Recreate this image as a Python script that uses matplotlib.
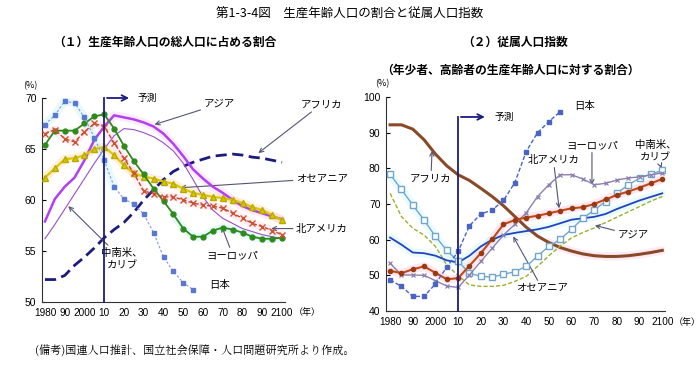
import matplotlib
matplotlib.use("Agg")
import matplotlib.pyplot as plt
import numpy as np

plt.rcParams['font.family'] = ['Noto Sans CJK JP', 'DejaVu Sans']
NUM = ['Liberation Sans Narrow', 'Liberation Sans', 'DejaVu Sans']

years = list(range(1980, 2101, 5))
years_jp = list(range(1980, 2056, 5))
xticks = list(range(1980, 2101, 10))
xticklabels = ['1980', '90', '2000', '10', '20', '30', '40', '50', '60', '70', '80', '90', '2100']

# (1) share of working-age population (%)
l_japan = [67.4, 68.3, 69.7, 69.5, 68.1, 66.1, 63.9, 61.3, 60.1, 59.6, 58.6, 56.8, 54.4, 53.0, 51.9, 51.2]
l_africa = [52.2, 52.2, 52.6, 53.6, 54.4, 55.3, 56.3, 57.1, 57.8, 58.8, 60.0, 61.0, 62.0, 62.8, 63.3, 63.7,
            64.0, 64.3, 64.4, 64.5, 64.4, 64.2, 64.1, 63.9, 63.7]
l_asia = [57.9, 60.1, 61.3, 62.2, 63.9, 65.9, 67.2, 68.3, 68.1, 67.9, 67.6, 67.2, 66.5, 65.5, 64.3, 63.0,
          62.1, 61.3, 60.7, 60.0, 59.4, 59.0, 58.7, 58.4, 58.1]
l_latam = [56.2, 57.6, 59.1, 60.6, 62.1, 63.6, 65.0, 66.3, 67.0, 66.9, 66.6, 66.2, 65.6, 64.8, 63.6, 62.0,
           60.3, 59.0, 58.2, 57.7, 57.2, 56.9, 56.6, 56.4, 56.2]
l_oceania = [62.2, 63.1, 64.0, 64.1, 64.4, 65.0, 65.2, 64.4, 63.4, 62.6, 62.3, 62.1, 61.8, 61.6, 61.1, 60.7,
             60.5, 60.3, 60.2, 60.0, 59.7, 59.3, 59.0, 58.5, 58.0]
l_europe = [65.4, 66.8, 66.8, 66.8, 67.5, 68.2, 68.4, 67.0, 65.3, 63.8, 62.5, 61.1, 59.9, 58.6, 57.2, 56.4,
            56.4, 57.0, 57.3, 57.1, 56.8, 56.4, 56.2, 56.2, 56.3]
l_namerica = [66.5, 66.9, 66.0, 65.7, 66.7, 67.5, 67.2, 65.6, 64.1, 62.6, 60.9, 60.6, 60.3, 60.3, 60.0, 59.7,
              59.5, 59.4, 59.2, 58.7, 58.2, 57.7, 57.4, 57.0, 56.6]

# (2) dependency ratio (%)
r_japan = [48.7, 46.9, 44.1, 44.1, 47.6, 52.3, 56.7, 63.9, 67.2, 68.3, 71.0, 76.0, 84.7, 90.0, 93.1, 95.9]
r_africa = [92.2, 92.2, 91.0, 88.0, 84.0, 80.7, 78.2, 76.6, 74.4, 72.1, 69.5, 66.5, 63.5, 61.0, 59.2, 57.8,
            56.8, 56.0, 55.5, 55.3, 55.3, 55.5, 55.9, 56.4, 57.0]
r_europe = [53.4, 50.1, 50.1, 50.0, 48.5, 47.0, 46.6, 50.1, 53.9, 57.6, 61.3, 64.3, 67.5, 72.1, 75.4, 78.2,
            78.2, 77.0, 75.4, 75.8, 76.7, 77.3, 77.6, 78.2, 78.7]
r_namerica = [51.3, 50.6, 51.7, 52.5, 50.7, 48.9, 49.2, 52.7, 56.2, 60.1, 64.3, 65.5, 66.2, 66.7, 67.4, 68.1,
              68.8, 69.1, 70.0, 71.3, 72.5, 73.5, 74.6, 75.8, 77.0]
r_oceania = [60.6, 58.6, 56.4, 56.2, 55.5, 54.2, 53.6, 55.5, 58.1, 60.0, 61.3, 61.9, 62.4, 62.9, 63.6, 64.6,
             65.6, 66.0, 66.4, 67.2, 68.6, 69.8, 71.0, 72.0, 73.0]
r_asia = [73.0, 66.5, 63.2, 61.3, 58.1, 52.9, 49.9, 47.3, 46.9, 46.9, 47.2, 48.3, 49.7, 52.5, 55.5, 58.2,
          60.5, 62.0, 63.3, 64.8, 66.3, 67.8, 69.3, 70.8, 72.1]
r_latam = [78.3, 74.1, 69.7, 65.5, 60.9, 57.0, 53.9, 50.6, 49.7, 49.5, 50.3, 51.0, 52.5, 55.4, 58.1, 60.1,
           62.9, 66.0, 68.3, 70.7, 73.0, 75.4, 77.2, 78.4, 79.4]

W, H = 700, 366
fig = plt.figure(figsize=(7.0, 3.66), dpi=100)


def pax(x0, y0, x1, y1):
    return fig.add_axes([x0 / W, 1 - y1 / H, (x1 - x0) / W, (y1 - y0) / H])


def ftxt(x, y, s, **kw):
    fig.text(x / W, 1 - y / H, s, **kw)


ftxt(350, 14, '第1-3-4図　生産年齢人口の割合と従属人口指数', ha='center', va='center', fontsize=9)
ftxt(165, 42, '（１）生産年齢人口の総人口に占める割合', ha='center', va='center', fontsize=8.5, fontweight='bold')
ftxt(515, 42, '（２）従属人口指数', ha='center', va='center', fontsize=8.5, fontweight='bold')
ftxt(510, 70, '（年少者、高齢者の生産年齢人口に対する割合）', ha='center', va='center', fontsize=8.5, fontweight='bold')
ftxt(30, 86, '(%)', ha='center', va='center', fontsize=6.5)
ftxt(382, 84, '(%)', ha='center', va='center', fontsize=6.5)
ftxt(35, 351, '(備考)国連人口推計、国立社会保障・人口問題研究所より作成。', ha='left', va='center', fontsize=8,
     family=['Noto Serif CJK JP', 'Noto Sans CJK JP', 'DejaVu Sans'])


def style_axes(ax, ylim, yticks, xlim):
    ax.set_xlim(*xlim)
    ax.set_ylim(*ylim)
    ax.set_yticks(yticks)
    ax.set_xticks(xticks)
    ax.set_xticklabels(xticklabels)
    for s in ['top', 'right']:
        ax.spines[s].set_visible(False)
    for s in ['left', 'bottom']:
        ax.spines[s].set_color('#333333')
        ax.spines[s].set_linewidth(0.8)
    ax.tick_params(axis='x', length=0, pad=4, labelsize=7.2)
    ax.tick_params(axis='y', direction='in', length=3, pad=4, labelsize=7.5)
    for lab in ax.get_xticklabels() + ax.get_yticklabels():
        lab.set_family(NUM)
    ax.patch.set_alpha(0)


def glow(ax, x, y, color, lw=6, alpha=0.2):
    ax.plot(x, y, color=color, lw=lw, alpha=alpha, solid_capstyle='round', zorder=1)


# ---------------- left chart ----------------
axL = pax(42, 98, 285, 302)
style_axes(axL, (50, 70), [50, 55, 60, 65, 70], (1978.5, 2101.5))

glow(axL, years[6:], l_asia[6:], '#ff9be8')
glow(axL, years, l_namerica, '#ffaacc')
glow(axL, years, l_oceania, '#ffc070', alpha=0.25)
glow(axL, years[13:], l_europe[13:], '#a0f0f0', alpha=0.25)
glow(axL, years_jp[:8], l_japan[:8], '#a0e8f0', alpha=0.25)

axL.plot(years, l_africa, color='#1c1c80', lw=2.0, ls=(0, (4, 2)), zorder=3)
axL.plot(years, l_latam, color='#9a50c8', lw=0.8, zorder=3)
axL.plot(years, l_asia, color='#b040f0', lw=1.8, zorder=4)
axL.plot(years, l_oceania, color='#d8c800', lw=1.6, marker='^', ms=4, mfc='#d8c800', mec='#b8a800', zorder=4)
axL.plot(years, l_europe, color='#2f8a1e', lw=1.3, marker='o', ms=3.5, zorder=5)
axL.plot(years, l_namerica, color='#b84a28', lw=1.0, ls=(0, (3, 1.5)), marker='x', ms=4.5, mew=1.0,
         mec='#d05030', zorder=5)
axL.plot(years_jp, l_japan, color='#8ea4e0', lw=0.9, ls=(0, (2, 1.5)), marker='s', ms=3.2,
         mfc='#5a78d0', mec='#5a78d0', zorder=5)

nav = '#1c1c80'
axL.plot([2010, 2010], [50, 70], color=nav, lw=1.3, clip_on=False, zorder=6)
axL.annotate('', xy=(2024, 70), xytext=(2010, 70), xycoords='data',
             arrowprops=dict(arrowstyle='->', color=nav, lw=1.3), annotation_clip=False)
axL.text(2027, 70, '予測', fontsize=7, va='center', ha='left')

arrow = dict(arrowstyle='->', color='#555577', lw=0.8, shrinkA=0, shrinkB=0)
fsl = 7.5
axL.annotate('アジア', xy=(2035.5, 67.4), xytext=(2068, 69.4), fontsize=fsl, ha='center', va='center',
             arrowprops=arrow, annotation_clip=False)
axL.annotate('アフリカ', xy=(2088, 64.6), xytext=(2120, 69.4), fontsize=fsl, ha='center', va='center',
             arrowprops=arrow, annotation_clip=False)
axL.annotate('オセアニア', xy=(2048.5, 61.2), xytext=(2120, 62.1), fontsize=fsl, ha='center', va='center',
             arrowprops=arrow, annotation_clip=False)
axL.annotate('北アメリカ', xy=(2094.5, 57.2), xytext=(2120, 57.2), fontsize=fsl, ha='center', va='center',
             arrowprops=arrow, annotation_clip=False)
axL.annotate('ヨーロッパ', xy=(2069.5, 57.4), xytext=(2075, 54.6), fontsize=fsl, ha='center', va='center',
             arrowprops=arrow, annotation_clip=False)
axL.text(2063, 51.7, '日本', fontsize=fsl, ha='left', va='center')
axL.annotate('中南米、\nカリブ', xy=(1991.8, 59.4), xytext=(2019, 54.2), fontsize=fsl, ha='center', va='center',
             arrowprops=arrow, annotation_clip=False, linespacing=1.3)
axL.text(2113, 48.95, '（年）', fontsize=6.5, ha='center', va='center')

# ---------------- right chart ----------------
axR = pax(386, 97, 665, 311)
style_axes(axR, (40, 100), [40, 50, 60, 70, 80, 90, 100], (1978.2, 2101.2))

glow(axR, years[14:], r_africa[14:], '#ffb0d8', alpha=0.25)
glow(axR, years, r_namerica, '#ffa0c8', alpha=0.25)
glow(axR, years, r_oceania, '#a8f0f8', alpha=0.25)
glow(axR, years[:8], r_latam[:8], '#a8f0f8', alpha=0.25)

axR.plot(years, r_africa, color='#8a4a28', lw=2.2, zorder=3)
axR.plot(years, r_asia, color='#98b030', lw=1.0, ls=(0, (3, 1.5)), zorder=3)
axR.plot(years, r_oceania, color='#2442c0', lw=1.3, zorder=4)
axR.plot(years, r_latam, color='#6fa6cc', lw=1.0, marker='s', ms=4.5, mfc='white', mec='#6fa6cc', mew=1.0,
         zorder=4)
axR.plot(years, r_europe, color='#8c80b0', lw=1.0, marker='x', ms=3.5, mew=0.9, zorder=5)
axR.plot(years, r_namerica, color='#c04a14', lw=1.5, marker='o', ms=3, mfc='#9a3a10', mec='#9a3a10', zorder=5)
axR.plot(years_jp, r_japan, color='#4a64c4', lw=1.0, ls=(0, (3, 1.5)), marker='s', ms=3.2,
         mfc='#4a64c4', mec='#4a64c4', zorder=5)

axR.plot([2010, 2010], [40, 94.4], color=nav, lw=1.3, clip_on=False, zorder=6)
axR.annotate('', xy=(2023, 94.4), xytext=(2010, 94.4), xycoords='data',
             arrowprops=dict(arrowstyle='->', color=nav, lw=1.3), annotation_clip=False)
axR.text(2026, 94.4, '予測', fontsize=7, va='center', ha='left')

axR.text(2061, 97.5, '日本', fontsize=fsl, ha='left', va='center')
axR.annotate('アフリカ', xy=(1998.5, 84.9), xytext=(1998, 77.2), fontsize=fsl, ha='center', va='center',
             arrowprops=arrow, annotation_clip=False)
axR.annotate('ヨーロッパ', xy=(2069, 75.4), xytext=(2069, 86.6), fontsize=fsl, ha='center', va='center',
             arrowprops=arrow, annotation_clip=False)
axR.annotate('中南米、\nカリブ', xy=(2099.7, 80.0), xytext=(2097, 84.7), fontsize=fsl, ha='center',
             va='center', arrowprops=arrow, annotation_clip=False, linespacing=1.3)
axR.annotate('北アメリカ', xy=(2054.5, 68.8), xytext=(2052, 82.4), fontsize=fsl, ha='center', va='center',
             arrowprops=arrow, annotation_clip=False)
axR.annotate('アジア', xy=(2070.3, 64.0), xytext=(2087, 61.3), fontsize=fsl, ha='center', va='center',
             arrowprops=arrow, annotation_clip=False)
axR.annotate('オセアニア', xy=(2034.3, 60.9), xytext=(2047, 46.4), fontsize=fsl, ha='center', va='center',
             arrowprops=arrow, annotation_clip=False)
axR.text(2111, 36.9, '（年）', fontsize=6.5, ha='center', va='center')

fig.savefig('out.png', dpi=100)
